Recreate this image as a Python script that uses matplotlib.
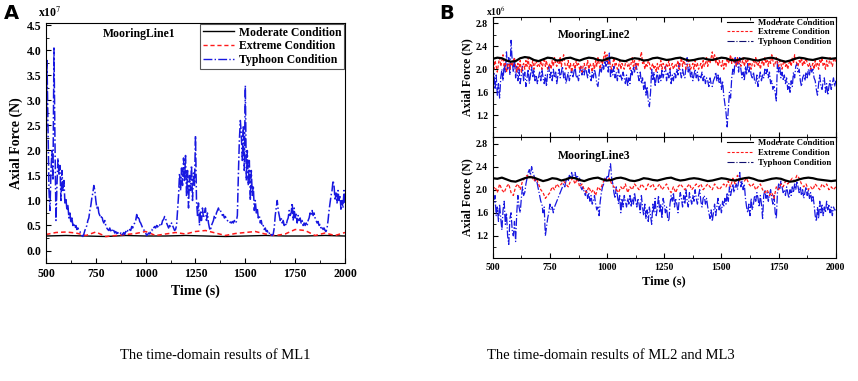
import numpy as np
import matplotlib
matplotlib.use("Agg")
import matplotlib.pyplot as plt
from matplotlib.ticker import MultipleLocator, FormatStrFormatter
from matplotlib.lines import Line2D

plt.rcParams['font.family'] = ['Liberation Serif', 'DejaVu Serif']
plt.rcParams['mathtext.fontset'] = 'stix'

# ---- ML1 (x1e7 N), typhoon sampled every 5 s ----
ml1_typhoon = [
    1.5, 3.8, 2.5, 1.2, 0.8, 1.6, 2.0, 1.4, 4.05, 2.2, 0.6, 1.3, 1.85, 1.5, 1.7, 1.0, 1.6, 1.2, 1.4, 0.95,
    1.05, 0.8, 0.9, 0.65, 0.75, 0.55, 0.65, 0.5, 0.55, 0.45, 0.5, 0.42, 0.45, 0.4, 0.38, 0.33, 0.3, 0.28, 0.33, 0.4,
    0.45, 0.5, 0.6, 0.65, 0.8, 0.9, 1.05, 1.15, 1.3, 1.2, 1.0, 0.85, 0.9, 0.75, 0.7, 0.65, 0.7, 0.6, 0.55, 0.6,
    0.5, 0.45, 0.42, 0.4, 0.45, 0.38, 0.42, 0.37, 0.4, 0.35, 0.38, 0.34, 0.36, 0.33, 0.32, 0.35, 0.3, 0.33, 0.36, 0.32,
    0.38, 0.35, 0.4, 0.38, 0.42, 0.4, 0.48, 0.45, 0.52, 0.55, 0.6, 0.72, 0.62, 0.68, 0.58, 0.55, 0.5, 0.45, 0.42, 0.38,
    0.35, 0.3, 0.32, 0.35, 0.33, 0.38, 0.42, 0.4, 0.45, 0.48, 0.45, 0.5, 0.47, 0.52, 0.5, 0.55, 0.52, 0.6, 0.62, 0.68,
    0.65, 0.55, 0.5, 0.45, 0.5, 0.48, 0.55, 0.5, 0.45, 0.4, 0.42, 0.5, 0.8, 1.1, 1.55, 1.2, 1.65, 1.3, 1.85, 1.4,
    1.9, 1.1, 1.6, 0.85, 1.5, 1.2, 1.7, 1.0, 1.55, 1.3, 2.3, 1.0, 0.7, 0.95, 0.5, 0.8, 0.6, 0.85, 0.65, 0.75,
    0.85, 0.6, 0.75, 0.55, 0.45, 0.4, 0.5, 0.55, 0.6, 0.7, 0.65, 0.75, 0.8, 0.85, 0.78, 0.8, 0.75, 0.7, 0.72, 0.65,
    0.68, 0.62, 0.6, 0.58, 0.55, 0.57, 0.55, 0.58, 0.55, 0.6, 0.55, 0.58, 0.7, 1.5, 2.2, 2.6, 2.3, 1.8, 2.5, 1.6,
    3.3, 1.4, 2.0, 1.3, 1.8, 1.0, 1.6, 1.1, 1.3, 0.8, 1.0, 0.75, 0.85, 0.65, 0.7, 0.55, 0.6, 0.48, 0.5, 0.42,
    0.45, 0.38, 0.4, 0.33, 0.35, 0.3, 0.32, 0.3, 0.33, 0.45, 0.7, 0.85, 1.0, 0.8, 0.7, 0.6, 0.65, 0.55, 0.6, 0.5,
    0.55, 0.5, 0.6, 0.65, 0.8, 0.7, 0.75, 0.95, 0.6, 0.85, 0.65, 0.75, 0.55, 0.7, 0.6, 0.65, 0.55, 0.6, 0.5, 0.55,
    0.5, 0.55, 0.5, 0.6, 0.65, 0.75, 0.7, 0.8, 0.7, 0.75, 0.65, 0.6, 0.55, 0.58, 0.5, 0.52, 0.45, 0.48, 0.42, 0.45,
    0.4, 0.38, 0.45, 0.6, 0.8, 0.95, 1.1, 1.2, 1.4, 1.3, 1.0, 1.15, 0.95, 1.2, 1.0, 1.1, 0.8, 1.0, 0.85, 1.2,
    0.95]
ml1_extreme = [0.32, 0.36, 0.37, 0.35, 0.3, 0.37, 0.28, 0.3, 0.32, 0.34,
               0.38, 0.3, 0.33, 0.36, 0.33, 0.38, 0.4, 0.35, 0.3, 0.34,
               0.36, 0.38, 0.33, 0.3, 0.33, 0.42, 0.4, 0.3, 0.35, 0.3, 0.36]
ml1_moderate = [0.29, 0.3, 0.29, 0.28, 0.3, 0.29, 0.29, 0.3, 0.29, 0.28,
                0.29, 0.3, 0.29, 0.29, 0.3, 0.29]

# ---- ML2 (x1e6 N) ----
ml2_moderate = [2.18, 2.2, 2.19, 2.15, 2.13, 2.14, 2.19, 2.21, 2.2, 2.16,
                2.14, 2.17, 2.2, 2.19, 2.15, 2.16, 2.19, 2.2, 2.17, 2.15,
                2.18, 2.2, 2.19, 2.16, 2.15, 2.18, 2.2, 2.18, 2.15, 2.14,
                2.17, 2.19, 2.18, 2.15, 2.16, 2.19, 2.2, 2.18, 2.16, 2.17,
                2.19, 2.2, 2.17, 2.15, 2.16, 2.18, 2.19, 2.17, 2.16, 2.18,
                2.2, 2.19, 2.16, 2.15, 2.17, 2.19, 2.18, 2.16, 2.15, 2.17,
                2.19, 2.2, 2.18, 2.15, 2.13, 2.15, 2.18, 2.2, 2.19, 2.17,
                2.16, 2.18, 2.2, 2.19, 2.18, 2.19]
ml2_extreme = [
    2.1, 2.0, 2.15, 2.05, 1.95, 2.1, 2.2, 2.05, 2.15, 2.25, 2.05, 2.1, 1.95, 2.05, 2.15, 2.0, 2.1, 2.05, 2.15, 2.2,
    2.05, 1.95, 2.1, 2.0, 2.15, 1.95, 2.05, 2.1, 2.0, 2.15, 2.05, 2.2, 2.0, 2.1, 2.05, 2.15, 2.0, 2.1, 2.15, 2.05,
    2.1, 2.05, 2.15, 2.0, 2.1, 2.2, 2.05, 2.15, 2.0, 2.05, 2.1, 2.0, 2.15, 2.05, 2.2, 2.1, 2.05, 2.15, 2.1, 2.2,
    2.05, 2.15, 2.25, 2.1, 2.0, 2.05, 2.15, 2.0, 2.1, 1.95, 2.05, 2.1, 2.0, 2.15, 2.05, 2.1, 2.0, 2.05, 1.95, 2.05,
    2.1, 2.0, 2.05, 2.15, 2.0, 2.1, 2.05, 1.95, 2.1, 2.0, 2.15, 2.05, 2.2, 2.1, 2.0, 2.15, 2.1, 2.2, 2.3, 2.15,
    2.25, 2.1, 2.15, 2.05, 2.0, 2.1, 2.2, 2.05, 2.1, 2.0, 2.05, 2.15, 2.0, 2.1, 2.05, 2.0, 2.1, 2.15, 2.05, 2.1,
    2.0, 2.1, 2.2, 2.05, 2.15, 2.0, 2.1, 2.05, 2.15, 2.2, 2.3, 2.1, 2.15, 2.0, 2.1, 2.05, 2.15, 2.1, 2.0, 2.05,
    2.1, 2.0, 2.05, 1.95, 2.1, 2.0, 2.05, 2.15, 2.0, 2.1, 2.05, 2.0, 2.1, 2.05, 2.15, 2.0, 2.05, 2.1, 2.0, 2.05,
    2.1, 2.05, 2.15, 2.0, 2.1, 2.2, 2.05, 2.15, 2.1, 2.0, 2.05, 2.15, 2.1, 2.0, 2.05, 2.1, 2.0, 2.15, 2.05, 2.1,
    2.0, 2.05, 2.1, 2.0, 2.15, 2.05, 2.1, 2.2, 2.05, 2.15, 2.1, 2.2, 2.3, 2.15, 2.25, 2.1, 2.2, 2.05, 2.15, 2.1,
    2.05, 2.15, 2.0, 2.1, 2.05, 2.2, 2.1, 2.15, 2.25, 2.1, 2.2, 2.1, 2.15, 2.05, 2.2, 2.1, 2.15, 2.05, 2.1, 2.2,
    2.05, 2.15, 2.1, 2.2, 2.05, 2.1, 2.0, 2.1, 2.15, 2.05, 2.2, 2.1, 2.05, 2.15, 2.0, 2.1, 2.15, 2.05, 2.2, 2.1,
    2.15, 2.05, 2.2, 2.1, 2.25, 2.15, 2.05, 2.1, 2.2, 2.1, 2.05, 2.15, 2.1, 2.0, 2.1, 2.15, 2.05, 2.1, 2.0, 2.1,
    2.15, 2.05, 2.2, 2.1, 2.25, 2.15, 2.1, 2.05, 2.15, 2.1, 2.2, 2.05, 2.15, 2.1, 2.2, 2.1, 2.05, 2.1, 2.0, 2.05,
    2.1, 2.0, 2.15, 2.05, 2.1, 2.0, 2.15, 2.1, 2.2, 2.05, 2.1, 2.0, 2.15, 2.05, 2.1, 2.2, 2.1, 2.05, 2.15, 2.2,
    2.1]
ml2_typhoon = [
    1.8, 1.95, 1.65, 1.9, 1.55, 1.75, 1.5, 1.85, 2.0, 1.8, 2.1, 1.95, 2.3, 2.0, 2.2, 1.9, 2.5, 2.15, 1.95, 2.2,
    1.85, 2.05, 1.8, 2.0, 1.75, 1.9, 2.05, 1.8, 1.95, 1.7, 1.85, 2.0, 1.75, 1.9, 2.05, 1.85, 2.0, 1.8, 1.9, 1.75,
    1.85, 1.95, 1.8, 2.0, 1.85, 1.75, 1.9, 1.7, 1.95, 2.05, 1.85, 1.95, 1.8, 2.0, 1.85, 1.95, 1.75, 1.9, 2.0, 1.85,
    1.95, 2.05, 1.85, 1.95, 1.75, 1.85, 1.95, 1.8, 1.9, 2.0, 1.85, 1.95, 2.05, 1.85, 1.9, 1.8, 1.95, 2.05, 1.9, 2.0,
    1.9, 2.05, 1.95, 1.85, 2.0, 1.9, 1.8, 1.95, 1.85, 2.0, 1.9, 1.75, 1.7, 1.9, 2.05, 1.95, 2.1, 2.0, 2.15, 2.05,
    2.2, 1.95, 2.3, 1.85, 2.0, 1.9, 2.05, 1.85, 1.95, 1.8, 2.0, 1.85, 1.9, 1.8, 1.95, 1.85, 1.75, 1.9, 1.7, 1.85,
    1.75, 2.0, 1.9, 2.05, 1.95, 2.1, 2.0, 1.9, 1.8, 1.95, 1.75, 1.85, 1.65, 1.8, 1.55, 1.7, 1.45, 1.35, 1.6, 2.0,
    1.8, 1.95, 1.7, 1.85, 1.95, 1.75, 1.9, 1.8, 2.0, 1.85, 1.95, 2.05, 1.8, 1.95, 1.85, 2.0, 1.75, 1.9, 1.8, 1.95,
    1.85, 2.0, 1.9, 2.1, 1.95, 1.85, 2.0, 1.9, 1.85, 2.05, 2.2, 1.95, 2.05, 1.85, 1.95, 1.8, 1.9, 2.0, 1.85, 1.95,
    1.8, 1.9, 1.85, 1.95, 1.8, 1.9, 1.75, 1.85, 1.8, 1.7, 1.85, 1.75, 1.7, 1.8, 1.85, 1.95, 1.8, 1.9, 1.75, 1.85,
    1.65, 1.8, 1.55, 1.4, 1.25, 1.0, 1.3, 1.6, 1.5, 1.85, 2.0, 1.9, 2.2, 2.05, 2.15, 1.95, 2.2, 2.0, 1.85, 1.95,
    1.8, 2.05, 1.9, 2.1, 1.95, 2.05, 1.9, 1.85, 1.95, 1.8, 1.75, 1.9, 1.7, 1.85, 1.95, 1.8, 1.9, 1.85, 2.0, 1.9,
    2.0, 1.85, 1.95, 1.75, 1.8, 1.65, 1.7, 1.6, 1.45, 2.15, 1.95, 2.05, 1.85, 1.95, 1.8, 1.9, 1.75, 1.85, 1.65, 1.75,
    1.6, 1.8, 1.7, 1.95, 1.85, 2.05, 2.1, 1.95, 2.0, 1.8, 1.7, 1.85, 1.9, 1.8, 1.95, 1.85, 2.0, 1.9, 2.05, 1.95,
    2.0, 1.85, 1.8, 1.65, 1.55, 1.75, 1.9, 1.7, 1.65, 1.8, 1.85, 1.6, 1.75, 1.55, 1.7, 1.8, 1.65, 1.75, 1.85, 1.7,
    1.8]

# ---- ML3 (x1e6 N) ----
ml3_moderate = [2.2, 2.19, 2.21, 2.18, 2.15, 2.14, 2.17, 2.2, 2.22, 2.21,
                2.18, 2.15, 2.17, 2.2, 2.19, 2.16, 2.18, 2.21, 2.2, 2.17,
                2.15, 2.18, 2.2, 2.21, 2.18, 2.16, 2.17, 2.2, 2.21, 2.19,
                2.16, 2.15, 2.17, 2.2, 2.19, 2.17, 2.16, 2.18, 2.2, 2.21,
                2.18, 2.16, 2.17, 2.19, 2.2, 2.19, 2.17, 2.15, 2.16, 2.18,
                2.2, 2.19, 2.17, 2.16, 2.18, 2.2, 2.21, 2.19, 2.16, 2.15,
                2.17, 2.19, 2.2, 2.19, 2.16, 2.14, 2.15, 2.18, 2.2, 2.21,
                2.2, 2.18, 2.17, 2.16, 2.15, 2.16]
ml3_extreme = [2.0, 2.05, 1.95, 2.1, 2.0, 1.95, 2.05, 2.1, 1.95, 1.9, 2.05,
               2.1, 2.0, 2.15, 2.2, 2.25, 2.2, 2.25, 2.15, 2.2, 2.1,
               2.0, 1.95, 1.85, 1.9, 1.95, 2.05, 2.0, 2.1, 2.05, 2.1,
               2.15, 2.1, 2.05, 2.15, 2.2, 2.1, 2.2, 2.05, 2.1, 2.0,
               1.95, 2.05, 1.95, 2.0, 1.9, 2.05, 2.0, 2.1, 2.2, 2.15,
               2.2, 2.1, 2.05, 2.0, 1.95, 2.05, 2.0, 2.1, 1.95, 2.05,
               2.0, 2.1, 2.05, 2.0, 2.1, 2.05, 2.0, 2.1, 2.05, 2.1,
               2.0, 2.05, 2.1, 2.0, 2.05, 2.1, 2.0, 1.95, 2.05, 1.95,
               2.05, 2.1, 2.05, 2.0, 2.05, 2.1, 2.0, 2.05, 2.1, 2.05,
               2.1, 2.0, 2.05, 2.1, 2.05, 2.0, 2.1, 2.05, 2.0, 2.05,
               2.1, 2.05, 2.15, 2.05, 2.2, 2.1, 2.25, 2.15, 2.2, 2.15,
               2.2, 2.1, 2.05, 2.1, 2.0, 2.05, 2.1, 2.0, 1.95, 2.0,
               1.9, 1.95, 1.85, 2.05, 2.0, 2.1, 2.05, 2.15, 2.1, 2.15,
               2.2, 2.15, 2.25, 2.2, 2.1, 2.05, 2.1, 2.0, 2.05, 2.0,
               2.1, 2.05, 2.0, 2.1, 2.05, 2.1, 2.0, 2.05, 2.0, 2.05]
ml3_typhoon = [
    1.6, 1.8, 1.9, 1.55, 1.7, 1.45, 1.75, 1.5, 1.3, 1.65, 1.8, 1.4, 1.6, 1.2, 1.05, 1.5, 1.6, 1.3, 1.2, 1.45,
    1.1, 1.6, 1.9, 1.7, 1.6, 1.85, 2.05, 1.9, 1.95, 2.1, 2.2, 2.3, 2.35, 2.25, 2.4, 2.3, 2.25, 2.15, 2.2, 2.1,
    2.0, 1.9, 1.8, 1.75, 1.6, 1.7, 1.2, 1.35, 1.5, 1.6, 1.75, 1.65, 1.7, 1.6, 1.7, 1.75, 1.8, 1.85, 1.9, 1.95,
    2.0, 2.05, 2.1, 2.05, 2.15, 2.2, 2.15, 2.25, 2.2, 2.3, 2.2, 2.25, 2.3, 2.2, 2.25, 2.15, 2.2, 2.05, 2.0, 2.05,
    1.95, 1.9, 2.0, 1.85, 1.95, 1.8, 1.9, 1.75, 1.8, 1.9, 1.75, 1.65, 1.7, 1.55, 1.8, 1.95, 2.05, 2.1, 2.2, 2.15,
    2.25, 2.2, 2.35, 2.45, 2.2, 2.1, 1.95, 1.85, 2.05, 1.9, 1.75, 1.9, 1.6, 1.85, 1.7, 1.9, 1.8, 1.7, 1.85, 1.75,
    1.9, 1.7, 1.85, 1.75, 1.95, 1.8, 1.7, 1.85, 1.75, 1.6, 1.9, 1.7, 1.55, 1.75, 1.5, 1.65, 1.45, 1.7, 1.55, 1.4,
    1.75, 1.6, 1.85, 1.55, 1.7, 1.9, 1.6, 1.75, 1.5, 1.85, 1.75, 1.6, 1.7, 1.5, 1.45, 1.75, 1.9, 1.8, 1.95, 1.7,
    1.85, 1.75, 1.6, 1.8, 1.95, 1.85, 1.7, 1.9, 1.75, 2.0, 1.8, 1.7, 1.95, 1.85, 1.75, 1.9, 1.8, 2.0, 1.85, 1.75,
    1.9, 2.0, 1.8, 1.7, 1.85, 1.9, 1.75, 1.85, 1.7, 1.6, 1.5, 1.65, 1.45, 1.6, 1.75, 1.55, 1.7, 1.85, 1.65, 1.75,
    1.6, 1.8, 1.7, 1.85, 1.75, 1.95, 1.8, 2.05, 1.9, 2.0, 2.1, 1.95, 2.05, 2.1, 2.0, 2.15, 2.3, 2.05, 2.15, 2.0,
    2.1, 1.85, 1.7, 1.6, 1.75, 1.55, 1.85, 1.65, 1.75, 1.9, 1.8, 1.95, 1.85, 1.7, 1.9, 1.75, 1.5, 1.9, 2.0, 1.85,
    1.95, 1.8, 1.9, 2.0, 1.85, 1.75, 1.9, 1.6, 1.5, 1.95, 2.1, 2.0, 2.15, 2.05, 1.95, 2.0, 1.9, 2.05, 1.95, 1.85,
    2.0, 1.9, 2.05, 1.95, 2.1, 2.0, 2.15, 2.05, 1.95, 2.05, 1.9, 2.0, 1.85, 1.95, 2.05, 1.9, 2.0, 1.85, 1.95, 1.8,
    1.9, 1.75, 1.55, 1.45, 1.7, 1.5, 1.8, 1.6, 1.75, 1.55, 1.7, 1.6, 1.8, 1.65, 1.75, 1.6, 1.7, 1.55, 1.7, 1.65,
    1.65]

labels = ['Moderate Condition', 'Extreme Condition', 'Typhoon Condition']
BLUE = '#1818e0'
RED = '#ff1a1a'


def t(vals):
    return np.linspace(500, 2000, len(vals))


def style_axis(ax, fs, major_y, minor_y):
    ax.set_xlim(500, 2000)
    ax.xaxis.set_major_locator(MultipleLocator(250))
    ax.xaxis.set_minor_locator(MultipleLocator(125))
    ax.yaxis.set_major_locator(MultipleLocator(major_y))
    ax.yaxis.set_minor_locator(MultipleLocator(minor_y))
    ax.yaxis.set_major_formatter(FormatStrFormatter('%.1f'))
    ax.tick_params(which='both', direction='in', labelsize=fs)
    ax.tick_params(which='major', length=3.5)
    ax.tick_params(which='minor', length=2)
    for lab in ax.get_xticklabels() + ax.get_yticklabels():
        lab.set_fontweight('bold')
    for s in ax.spines.values():
        s.set_linewidth(0.8)


fig = plt.figure(figsize=(8.58, 3.81), dpi=100)

# ---------- Panel A ----------
axA = fig.add_axes([0.0536, 0.3097, 0.3485, 0.630])
axA.plot(t(ml1_moderate), ml1_moderate, color='black', lw=1.0)
axA.plot(t(ml1_extreme), ml1_extreme, color=RED, lw=1.1, ls='--', dashes=(3, 2))
axA.plot(t(ml1_typhoon), ml1_typhoon, color=BLUE, lw=1.1, ls='-.')
axA.set_ylim(-0.25, 4.55)
style_axis(axA, 8.5, 0.5, 0.25)
axA.set_xlabel('Time (s)', fontsize=10, fontweight='bold', labelpad=3)
axA.set_ylabel('Axial Force (N)', fontsize=10, fontweight='bold', labelpad=2)
axA.text(0.31, 0.955, 'MooringLine1', transform=axA.transAxes, fontsize=8.5,
         fontweight='bold', ha='center', va='center')
handlesA = [Line2D([], [], color='black', lw=1.0),
            Line2D([], [], color=RED, lw=1.0, ls='--', dashes=(3, 2)),
            Line2D([], [], color=BLUE, lw=1.0, ls='-.')]
legA = axA.legend(handlesA, labels, loc='upper right', fancybox=False,
                  edgecolor='#555555', framealpha=1,
                  prop={'weight': 'bold', 'size': 8.5}, handlelength=2.6,
                  handletextpad=0.4, borderpad=0.25, labelspacing=0.15,
                  borderaxespad=0.05)
legA.get_frame().set_linewidth(0.8)
fig.text(0.044, 0.965, r'x10$^{7}$', fontsize=8.5, fontweight='bold',
         ha='left', va='center')
fig.text(0.004, 0.965, 'A', fontsize=14, fontweight='bold',
         family='DejaVu Sans', ha='left', va='center')

# ---------- Panel B ----------
axB1 = fig.add_axes([0.5743, 0.6396, 0.3998, 0.3166])
axB2 = fig.add_axes([0.5743, 0.3236, 0.3998, 0.3160], sharex=axB1)
for ax, mod, ext, typ, name in [(axB1, ml2_moderate, ml2_extreme, ml2_typhoon, 'MooringLine2'),
                                (axB2, ml3_moderate, ml3_extreme, ml3_typhoon, 'MooringLine3')]:
    ax.plot(t(typ), typ, color=BLUE, lw=0.9, ls='-.')
    ax.plot(t(ext), ext, color=RED, lw=0.9, ls='--', dashes=(2.5, 1.5))
    ax.plot(t(mod), mod, color='black', lw=1.6)
    ax.set_ylim(0.82, 2.91)
    style_axis(ax, 7, 0.4, 0.2)
    ax.tick_params(top=True, which='both')
    ax.set_ylabel('Axial Force (N)', fontsize=8.5, fontweight='bold', labelpad=2)
    ax.text(0.295, 0.845, name, transform=ax.transAxes, fontsize=8.5,
            fontweight='bold', ha='center', va='center')
    hb = [Line2D([], [], color='black', lw=0.8),
          Line2D([], [], color=RED, lw=0.8, ls='--', dashes=(2.5, 1.5)),
          Line2D([], [], color='#101070', lw=0.8, ls='-.')]
    ax.legend(hb, labels, loc='upper right', frameon=False,
              prop={'weight': 'bold', 'size': 6.3}, handlelength=3.0,
              handletextpad=0.5, borderpad=0.1, labelspacing=0.2,
              borderaxespad=0.1)
axB1.tick_params(labelbottom=False)
axB2.set_xlabel('Time (s)', fontsize=9, fontweight='bold', labelpad=3)
fig.text(0.566, 0.97, r'x10$^{6}$', fontsize=7, fontweight='bold',
         ha='left', va='center')
fig.text(0.512, 0.965, 'B', fontsize=14, fontweight='bold',
         family='DejaVu Sans', ha='left', va='center')

# ---------- captions ----------
fig.text(0.251, 0.068, 'The time-domain results of ML1', fontsize=10.5,
         ha='center', va='center')
fig.text(0.712, 0.068, 'The time-domain results of ML2 and ML3', fontsize=10.5,
         ha='center', va='center')

fig.savefig('out.png', dpi=100)
